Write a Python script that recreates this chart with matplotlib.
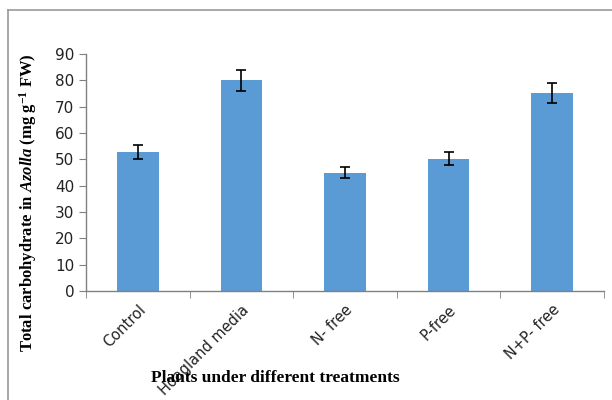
import matplotlib
matplotlib.use('Agg')
import matplotlib.pyplot as plt
import numpy as np
from matplotlib.lines import Line2D

# Data
treatments = ['Control', 'Hoagland media', 'N- free', 'P-free', 'N+P- free']
carbohydrate = [52.7, 80.0, 45.0, 50.3, 75.2]
errors = [2.7, 4.1, 2.2, 2.6, 3.9]

plt.rcParams['mathtext.fontset'] = 'custom'
plt.rcParams['mathtext.rm'] = 'Liberation Serif:bold'
plt.rcParams['mathtext.it'] = 'Liberation Serif:italic:bold'
plt.rcParams['mathtext.bf'] = 'Liberation Serif:bold'

fig = plt.figure(figsize=(6.12, 4.0), dpi=100)
ax = fig.add_axes([86 / 612, 1 - 291 / 400, (604 - 86) / 612, (291 - 54) / 400])

x = np.arange(len(treatments))
ax.bar(x, carbohydrate, width=0.4, color='#5b9bd5', zorder=2)
ax.errorbar(x, carbohydrate, yerr=errors, fmt='none', ecolor='black',
            elinewidth=1.2, capsize=3.5, capthick=1.2, zorder=3)

ax.set_xlim(-0.5, len(treatments) - 0.5)
ax.set_ylim(0, 90)
ax.set_yticks(np.arange(0, 91, 10))
ax.set_xticks(x)
ax.set_xticklabels(treatments, rotation=45, ha='right', rotation_mode='anchor',
                   fontsize=10.5, color='#222222')
ax.set_xticks(np.arange(-0.5, len(treatments), 1), minor=True)
ax.tick_params(axis='x', which='major', length=0, pad=8)
ax.tick_params(axis='x', which='minor', length=5, color='#808080', direction='out')
ax.tick_params(axis='y', length=5, color='#808080', labelsize=11, labelcolor='#222222')

for side in ['top', 'right']:
    ax.spines[side].set_visible(False)
for side in ['left', 'bottom']:
    ax.spines[side].set_color('#808080')
    ax.spines[side].set_linewidth(1.0)

ax.set_ylabel(r'Total carbohydrate in $\it{Azolla}$ (mg g$^{-1}$ FW)',
              fontsize=12, fontweight='bold', family='Liberation Serif')
ax.yaxis.set_label_coords(-0.09, 0.375)

fig.text(0.45, 0.055, 'Plants under different treatments', ha='center', va='center',
         fontsize=12.5, fontweight='bold', family='Liberation Serif')

# outer frame
fig.add_artist(Line2D([8 / 612, 1.0], [1 - 10 / 400, 1 - 10 / 400],
                      transform=fig.transFigure, color='#999999', lw=1.2))
fig.add_artist(Line2D([8 / 612, 8 / 612], [0, 1 - 10 / 400],
                      transform=fig.transFigure, color='#999999', lw=1.2))

plt.savefig('out.png', dpi=100)
